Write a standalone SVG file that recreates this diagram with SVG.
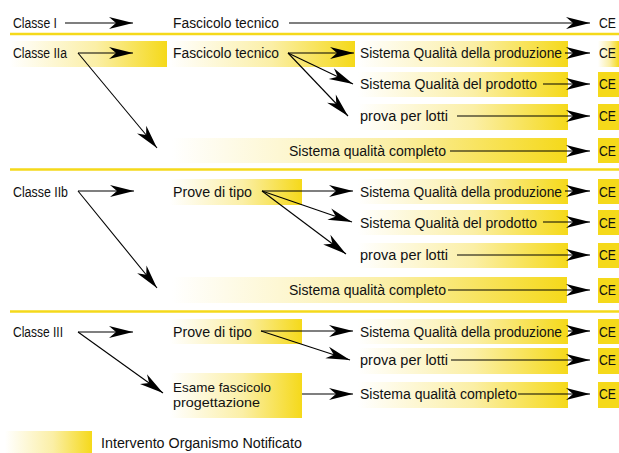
<svg xmlns="http://www.w3.org/2000/svg" width="619" height="453" viewBox="0 0 619 453">
<defs>
<linearGradient id="g" x1="0" y1="0" x2="1" y2="0">
<stop offset="0" stop-color="#FFFFFF"/>
<stop offset="0.55" stop-color="#FBEFA6"/>
<stop offset="1" stop-color="#F5D91A"/>
</linearGradient>
<marker id="ah" markerUnits="userSpaceOnUse" markerWidth="24" markerHeight="12" refX="24" refY="6" orient="auto" overflow="visible">
<path d="M0,0 L24,6 L0,12 L7,6 z" fill="#000"/>
</marker>
<style>
text{font-family:"Liberation Sans",Arial,sans-serif;font-size:15.5px;fill:#111}
text.two{font-size:13px}
.gb{fill:url(#g)}
.ce{fill:#F5D91A}
.sep{stroke:#F5D91A;stroke-width:2.5}
.c line{stroke:#000;stroke-width:1.1;marker-end:url(#ah)}
</style>
</defs>
<rect width="619" height="453" fill="#fff"/>
<g id="separators">
<line class="sep" x1="10" y1="34" x2="619" y2="34"/>
<line class="sep" x1="10" y1="169.5" x2="619" y2="169.5"/>
<line class="sep" x1="10" y1="311.5" x2="619" y2="311.5"/>
</g>
<g id="boxes">
<rect class="gb" x="10" y="41" width="157" height="26"/>
<rect class="gb" x="170" y="41" width="185" height="26"/>
<rect class="gb" x="358" y="41" width="210" height="26"/>
<rect class="gb" x="358" y="72" width="210" height="25"/>
<rect class="gb" x="358" y="104" width="210" height="26"/>
<rect class="gb" x="172" y="138" width="395" height="25"/>
<rect class="gb" x="170" y="179" width="132" height="26"/>
<rect class="gb" x="358" y="179" width="210" height="25"/>
<rect class="gb" x="358" y="210" width="210" height="25"/>
<rect class="gb" x="358" y="243" width="210" height="25"/>
<rect class="gb" x="172" y="277" width="395" height="26"/>
<rect class="gb" x="170" y="319" width="132" height="25"/>
<rect class="gb" x="170" y="373" width="132" height="45"/>
<rect class="gb" x="358" y="319" width="210" height="25"/>
<rect class="gb" x="358" y="348" width="210" height="26"/>
<rect class="gb" x="358" y="382" width="210" height="26"/>
<rect class="gb" x="5" y="431" width="87" height="22"/>
</g>
<g id="ce-boxes">
<rect class="gb" x="598" y="41" width="21" height="26"/>
<rect class="ce" x="598" y="72" width="21" height="25"/>
<rect class="ce" x="598" y="104" width="21" height="26"/>
<rect class="ce" x="598" y="138" width="21" height="25"/>
<rect class="ce" x="598" y="179" width="21" height="25"/>
<rect class="ce" x="598" y="210" width="21" height="25"/>
<rect class="ce" x="598" y="243" width="21" height="25"/>
<rect class="ce" x="598" y="278" width="21" height="25"/>
<rect class="ce" x="598" y="319" width="21" height="25"/>
<rect class="ce" x="598" y="348" width="21" height="26"/>
<rect class="ce" x="598" y="382" width="21" height="26"/>
</g>
<g id="n-classe1"><text x="13" y="28" textLength="44" lengthAdjust="spacingAndGlyphs">Classe I</text></g>
<g id="n-fasc1"><text x="173" y="28" textLength="106" lengthAdjust="spacingAndGlyphs">Fascicolo tecnico</text></g>
<g id="n-ce1"><text x="599" y="28" textLength="17" lengthAdjust="spacingAndGlyphs">CE</text></g>
<g id="n-classe2a"><text x="13" y="58" textLength="54" lengthAdjust="spacingAndGlyphs">Classe IIa</text></g>
<g id="n-fasc2a"><text x="173" y="58" textLength="106" lengthAdjust="spacingAndGlyphs">Fascicolo tecnico</text></g>
<g id="n-sqp2a"><text x="360" y="58" textLength="202" lengthAdjust="spacingAndGlyphs">Sistema Qualità della produzione</text></g>
<g id="n-sqd2a"><text x="360" y="89" textLength="177" lengthAdjust="spacingAndGlyphs">Sistema Qualità del prodotto</text></g>
<g id="n-ppl2a"><text x="360" y="121" textLength="88" lengthAdjust="spacingAndGlyphs">prova per lotti</text></g>
<g id="n-sqc2a"><text x="289" y="156" textLength="157" lengthAdjust="spacingAndGlyphs">Sistema qualità completo</text></g>
<g id="n-ce2a"><text x="599" y="58" textLength="17" lengthAdjust="spacingAndGlyphs">CE</text><text x="599" y="89" textLength="17" lengthAdjust="spacingAndGlyphs">CE</text><text x="599" y="121" textLength="17" lengthAdjust="spacingAndGlyphs">CE</text><text x="599" y="156" textLength="17" lengthAdjust="spacingAndGlyphs">CE</text></g>
<g id="n-classe2b"><text x="13" y="197" textLength="55" lengthAdjust="spacingAndGlyphs">Classe IIb</text></g>
<g id="n-prove2b"><text x="173" y="197" textLength="79" lengthAdjust="spacingAndGlyphs">Prove di tipo</text></g>
<g id="n-sqp2b"><text x="360" y="197" textLength="202" lengthAdjust="spacingAndGlyphs">Sistema Qualità della produzione</text></g>
<g id="n-sqd2b"><text x="360" y="228" textLength="177" lengthAdjust="spacingAndGlyphs">Sistema Qualità del prodotto</text></g>
<g id="n-ppl2b"><text x="360" y="260" textLength="88" lengthAdjust="spacingAndGlyphs">prova per lotti</text></g>
<g id="n-sqc2b"><text x="289" y="295" textLength="157" lengthAdjust="spacingAndGlyphs">Sistema qualità completo</text></g>
<g id="n-ce2b"><text x="599" y="197" textLength="17" lengthAdjust="spacingAndGlyphs">CE</text><text x="599" y="228" textLength="17" lengthAdjust="spacingAndGlyphs">CE</text><text x="599" y="260" textLength="17" lengthAdjust="spacingAndGlyphs">CE</text><text x="599" y="295" textLength="17" lengthAdjust="spacingAndGlyphs">CE</text></g>
<g id="n-classe3"><text x="13" y="337" textLength="50" lengthAdjust="spacingAndGlyphs">Classe III</text></g>
<g id="n-prove3"><text x="173" y="337" textLength="79" lengthAdjust="spacingAndGlyphs">Prove di tipo</text></g>
<g id="n-esame3"><text class="two" x="173" y="391.5" textLength="98" lengthAdjust="spacingAndGlyphs">Esame fascicolo</text><text class="two" x="173" y="406.5" textLength="87" lengthAdjust="spacingAndGlyphs">progettazione</text></g>
<g id="n-sqp3"><text x="360" y="337" textLength="202" lengthAdjust="spacingAndGlyphs">Sistema Qualità della produzione</text></g>
<g id="n-ppl3"><text x="360" y="365" textLength="88" lengthAdjust="spacingAndGlyphs">prova per lotti</text></g>
<g id="n-sqc3"><text x="360" y="399" textLength="157" lengthAdjust="spacingAndGlyphs">Sistema qualità completo</text></g>
<g id="n-ce3"><text x="599" y="337" textLength="17" lengthAdjust="spacingAndGlyphs">CE</text><text x="599" y="365" textLength="17" lengthAdjust="spacingAndGlyphs">CE</text><text x="599" y="399" textLength="17" lengthAdjust="spacingAndGlyphs">CE</text></g>
<g id="legend"><text x="101" y="448" textLength="201" lengthAdjust="spacingAndGlyphs">Intervento Organismo Notificato</text></g>
<g id="connectors" class="c">
<line x1="65" y1="23" x2="133" y2="23"/>
<line x1="289" y1="23" x2="590" y2="23"/>
<line x1="78" y1="53" x2="133" y2="53"/>
<line x1="78" y1="53" x2="157" y2="148"/>
<line x1="288" y1="53" x2="354" y2="53"/>
<line x1="288" y1="53" x2="353" y2="84"/>
<line x1="288" y1="53" x2="348" y2="116"/>
<line x1="565" y1="53" x2="590" y2="53"/>
<line x1="543" y1="84" x2="590" y2="84"/>
<line x1="457" y1="116" x2="590" y2="116"/>
<line x1="450" y1="151" x2="590" y2="151"/>
<line x1="78" y1="191" x2="134" y2="191"/>
<line x1="78" y1="191" x2="157" y2="288"/>
<line x1="262" y1="191" x2="353" y2="191"/>
<line x1="262" y1="191" x2="352" y2="222"/>
<line x1="262" y1="191" x2="346" y2="254"/>
<line x1="565" y1="191" x2="590" y2="191"/>
<line x1="543" y1="222" x2="590" y2="222"/>
<line x1="457" y1="255" x2="590" y2="255"/>
<line x1="448" y1="290" x2="590" y2="290"/>
<line x1="78" y1="332" x2="133" y2="332"/>
<line x1="78" y1="332" x2="163" y2="393"/>
<line x1="261" y1="331" x2="353" y2="331"/>
<line x1="261" y1="331" x2="350" y2="360"/>
<line x1="302" y1="394" x2="353" y2="394"/>
<line x1="568" y1="331" x2="590" y2="331"/>
<line x1="451" y1="360" x2="590" y2="360"/>
<line x1="518" y1="394" x2="590" y2="394"/>
</g>
</svg>
